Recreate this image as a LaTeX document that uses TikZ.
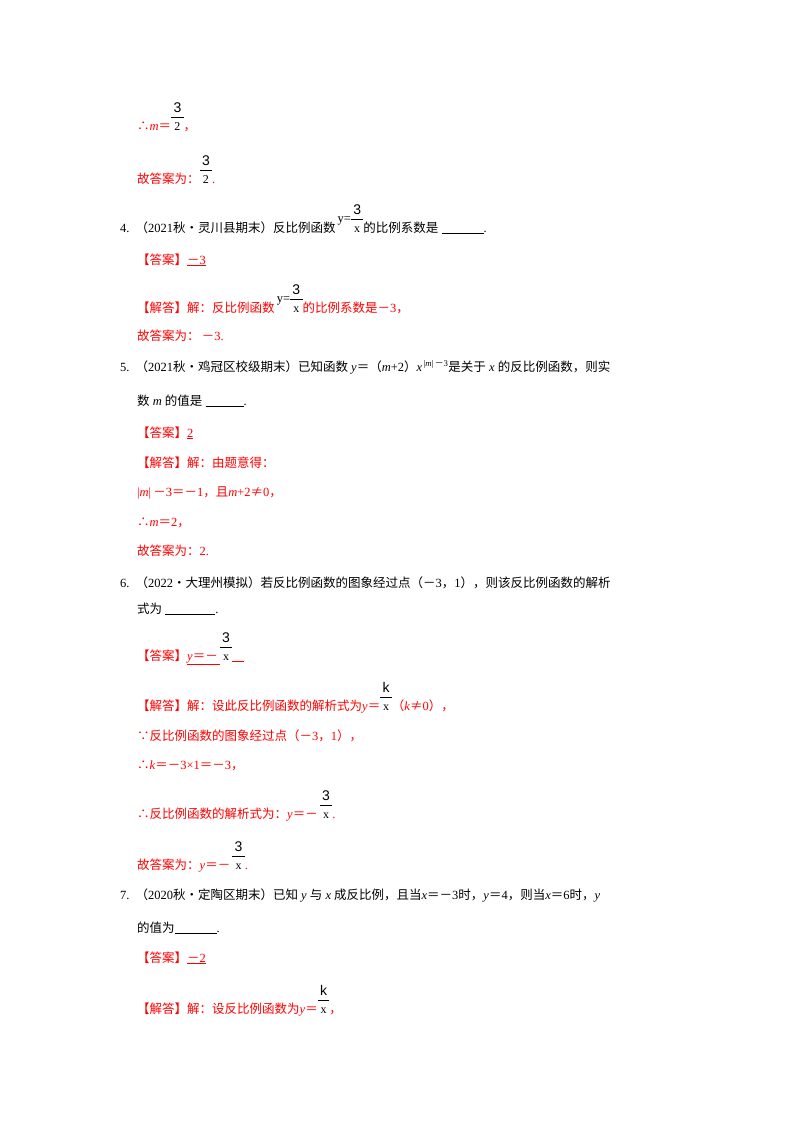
\documentclass[tikz,border=0pt]{standalone}
\usepackage{fontspec}
\setmainfont{Liberation Serif}
\newfontfamily\cjk{Noto Sans CJK SC}
\newfontfamily\frf{Liberation Sans}
\newcommand\Z[1]{{\cjk #1}}
\newcommand\M{\Z{－}}
\newcommand\fr[2]{{\color{black}\fontsize{14}{15}\selectfont\begin{tabular}[b]{@{\,}c@{\,}}\rule[-4pt]{0pt}{0pt}{\frf #1}\\\hline\rule{0pt}{13pt}{\fontsize{12}{13}\selectfont #2}\end{tabular}}}
\newcommand\blank[1]{\rule[-1.5pt]{#1}{0.5pt}}
\definecolor{ans}{RGB}{255,0,0}
\tikzset{ln/.style={anchor=base west,inner sep=0pt,font=\fontsize{12.5}{14}\selectfont},
  rd/.style={ln,text=ans}}
\setlength{\tabcolsep}{0pt}
\begin{document}
\begin{tikzpicture}[x=1pt,y=-1pt]
\useasboundingbox[fill=white] (0,0) rectangle (800,1132);
\node[rd] (l1) at (137,130) {\Z{∴}\textit{m}\Z{＝}\fr{3}{2}\Z{，}};
\node[rd] (l2) at (137,183) {\Z{故答案为：}\fr{3}{2}.};
\node[ln] (l3) at (120,232) {4.\hspace{6pt}\Z{（}2021\Z{秋•灵川县期末）反比例函数}\,\raisebox{10pt}{y=}\fr{3}{x}\Z{的比例系数是} \blank{42pt}.};
\node[rd] (l4) at (137,264) {\Z{【答案】}\underline{\M3}};
\node[rd] (l5) at (137,312) {\Z{【解答】解：反比例函数}\,{\color{black}\raisebox{10pt}{y=}}\fr{3}{x}\Z{的比例系数是}\M3\Z{，}};
\node[rd] (l6) at (137,340) {\Z{故答案为：}\,\M3.};
\node[ln] (l7) at (120,371) {5.\hspace{6pt}\Z{（}2021\Z{秋•鸡冠区校级期末）已知函数} \textit{y}\Z{＝（}\textit{m}+2\Z{）}\textit{x}\textsuperscript{\,|\textit{m}|\,\M3}\Z{是关于} \textit{x} \Z{的反比例函数，则实}};
\node[ln] (l8) at (137,405) {\Z{数} \textit{m} \Z{的值是} \blank{38pt}.};
\node[rd] (l9) at (137,437) {\Z{【答案】}\underline{2}};
\node[rd] (l10) at (137,467) {\Z{【解答】解：由题意得：}};
\node[rd] (l11) at (137,496) {|\textit{m}|\,\M3\Z{＝}\M1\Z{，且}\textit{m}+2\Z{≠}0\Z{，}};
\node[rd] (l12) at (137,526) {\Z{∴}\textit{m}\Z{＝}2\Z{，}};
\node[rd] (l13) at (137,555) {\Z{故答案为：}2.};
\node[ln] (l14) at (120,587) {6.\hspace{6pt}\Z{（}2022\Z{•大理州模拟）若反比例函数的图象经过点（}\M3\Z{，}1\Z{），则该反比例函数的解析}};
\node[ln] (l15) at (137,613) {\Z{式为} \blank{50pt}.};
\node[rd] (l16) at (137,660) {\Z{【答案】}\underline{\textit{y}\Z{＝}\M\,}\fr{3}{x}\underline{\hspace{12pt}}};
\node[rd] (l17) at (137,710) {\Z{【解答】解：设此反比例函数的解析式为}\textit{y}\Z{＝}\fr{k}{x}\Z{（}\textit{k}\Z{≠}0\Z{），}};
\node[rd] (l18) at (137,740) {\Z{∵反比例函数的图象经过点（}\M3\Z{，}1\Z{），}};
\node[rd] (l19) at (137,769) {\Z{∴}\textit{k}\Z{＝}\M3×1\Z{＝}\M3\Z{，}};
\node[rd] (l20) at (137,818) {\Z{∴反比例函数的解析式为：}\textit{y}\Z{＝}\M\,\fr{3}{x}.};
\node[rd] (l21) at (137,869) {\Z{故答案为：}\textit{y}\Z{＝}\M\,\fr{3}{x}.};
\node[ln] (l22) at (120,899) {7.\hspace{6pt}\Z{（}2020\Z{秋•定陶区期末）已知} \textit{y} \Z{与} \textit{x} \Z{成反比例，且当}\textit{x}\Z{＝}\M3\Z{时，}\textit{y}\Z{＝}4\Z{，则当}\textit{x}\Z{＝}6\Z{时，}\textit{y}};
\node[ln] (l23) at (137,932) {\Z{的值为}\blank{42pt}.};
\node[rd] (l24) at (137,962) {\Z{【答案】}\underline{\M2}};
\node[rd] (l25) at (137,1013) {\Z{【解答】解：设反比例函数为}\textit{y}\Z{＝}\fr{k}{x}\Z{，}};
\end{tikzpicture}
\end{document}
